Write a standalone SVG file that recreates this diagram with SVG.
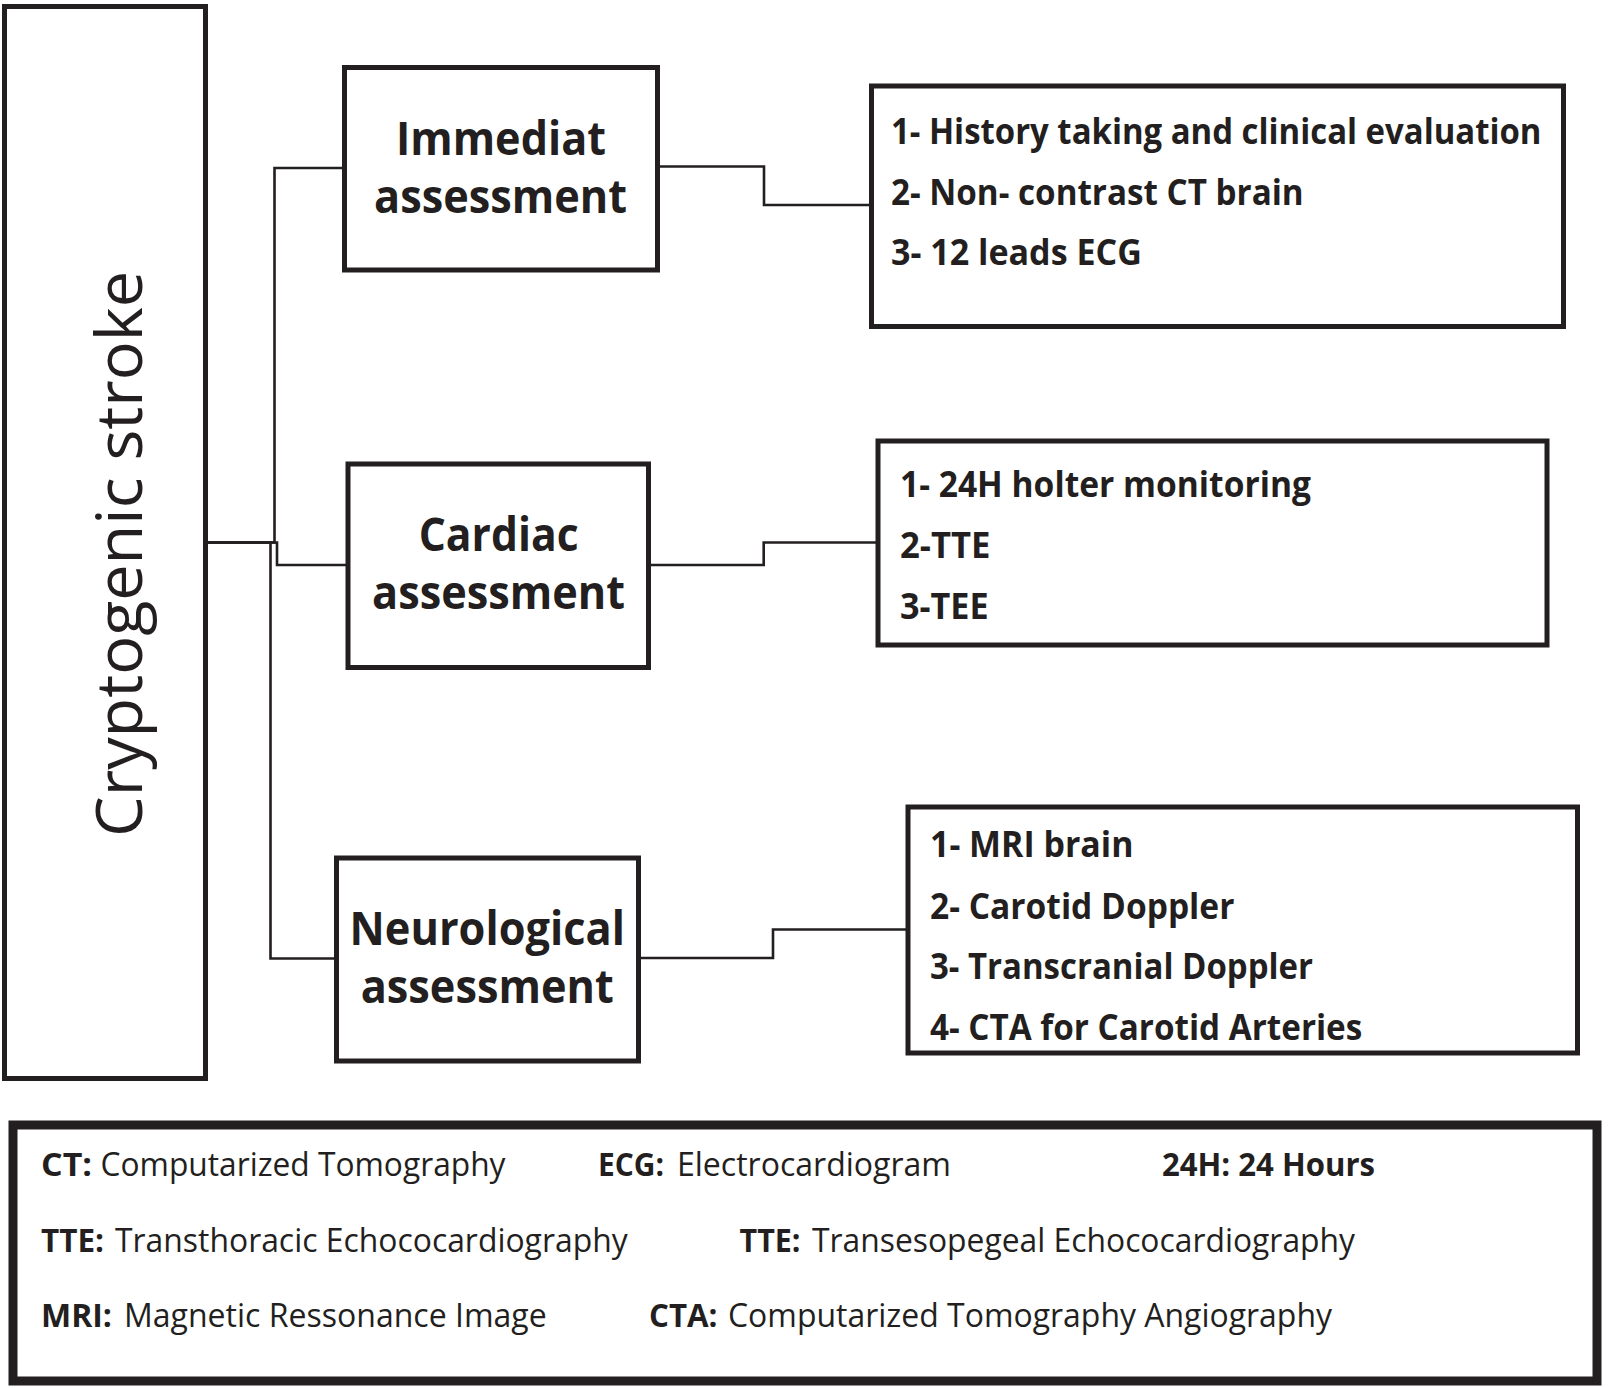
<svg xmlns="http://www.w3.org/2000/svg" width="1608" height="1388" viewBox="0 0 1608 1388">
<style>
.box{fill:#fff;stroke:#231f20;stroke-width:5}
.conn{fill:none;stroke:#231f20;stroke-width:2.6}
.t{font-family:"Open Sans","Noto Sans","Liberation Sans",sans-serif;fill:#231f20}
.title{font-size:46px;font-weight:700}
.item{font-size:35px;font-weight:700}
.leg{font-size:33px;font-weight:400}
.legb{font-size:33px;font-weight:700}
.root{font-size:64px;font-weight:400}
</style>
<rect x="0" y="0" width="1608" height="1388" fill="#fff"/>
<g id="connectors">
<path class="conn" d="M344.5,168 H274.5 V542.5 H207"/>
<path class="conn" d="M207,542.5 H277 V565 H348"/>
<path class="conn" d="M207,542.5 H270.5 V958.5 H336.5"/>
<path class="conn" d="M657.5,166.5 H764 V205 H871.5"/>
<path class="conn" d="M648.5,565 H763.7 V542.5 H878"/>
<path class="conn" d="M638.5,958 H773 V929.5 H908"/>
</g>
<g id="cryptogenic-stroke">
<rect class="box" x="4.5" y="6.5" width="201" height="1072"/>
<text class="t root" transform="translate(142,837) rotate(-90)" x="0" y="0" textLength="566" lengthAdjust="spacingAndGlyphs">Cryptogenic stroke</text>
</g>
<g id="immediate-assessment">
<rect class="box" x="344.5" y="67.5" width="313" height="202.5"/>
<text class="t title" x="396" y="154.5" textLength="210" lengthAdjust="spacingAndGlyphs">Immediat</text>
<text class="t title" x="374" y="212.5" textLength="253" lengthAdjust="spacingAndGlyphs">assessment</text>
</g>
<g id="cardiac-assessment">
<rect class="box" x="348" y="464" width="300.5" height="203.5"/>
<text class="t title" x="418.7" y="551.3" textLength="160" lengthAdjust="spacingAndGlyphs">Cardiac</text>
<text class="t title" x="372" y="609.4" textLength="253" lengthAdjust="spacingAndGlyphs">assessment</text>
</g>
<g id="neurological-assessment">
<rect class="box" x="336.5" y="858" width="302" height="203"/>
<text class="t title" x="349.5" y="945" textLength="275.5" lengthAdjust="spacingAndGlyphs">Neurological</text>
<text class="t title" x="360.7" y="1003" textLength="253" lengthAdjust="spacingAndGlyphs">assessment</text>
</g>
<g id="immediate-list">
<rect class="box" x="871.5" y="86" width="692" height="240.5"/>
<text class="t item" x="891" y="144" textLength="650.5" lengthAdjust="spacingAndGlyphs">1- History taking and clinical evaluation</text>
<text class="t item" x="891" y="205" textLength="412.7" lengthAdjust="spacingAndGlyphs">2- Non- contrast CT brain</text>
<text class="t item" x="891" y="265" textLength="250.8" lengthAdjust="spacingAndGlyphs">3- 12 leads ECG</text>
</g>
<g id="cardiac-list">
<rect class="box" x="878" y="441" width="669" height="204"/>
<text class="t item" x="900" y="497" textLength="411" lengthAdjust="spacingAndGlyphs">1- 24H holter monitoring</text>
<text class="t item" x="900" y="557.5" textLength="90.5" lengthAdjust="spacingAndGlyphs">2-TTE</text>
<text class="t item" x="900" y="619" textLength="88.6" lengthAdjust="spacingAndGlyphs">3-TEE</text>
</g>
<g id="neurological-list">
<rect class="box" x="908" y="807" width="669.5" height="246"/>
<text class="t item" x="930" y="857" textLength="203.5" lengthAdjust="spacingAndGlyphs">1- MRI brain</text>
<text class="t item" x="930" y="918.5" textLength="304.4" lengthAdjust="spacingAndGlyphs">2- Carotid Doppler</text>
<text class="t item" x="930" y="979" textLength="383" lengthAdjust="spacingAndGlyphs">3- Transcranial Doppler</text>
<text class="t item" x="930" y="1040" textLength="432.3" lengthAdjust="spacingAndGlyphs">4- CTA for Carotid Arteries</text>
</g>
<g id="legend">
<rect x="13" y="1125" width="1584" height="256" fill="#fff" stroke="#231f20" stroke-width="9"/>
<text class="t legb" x="41" y="1176" textLength="51" lengthAdjust="spacingAndGlyphs">CT:</text>
<text class="t leg" x="100.5" y="1176" textLength="405" lengthAdjust="spacingAndGlyphs">Computarized Tomography</text>
<text class="t legb" x="598" y="1176" textLength="66" lengthAdjust="spacingAndGlyphs">ECG:</text>
<text class="t leg" x="677" y="1176" textLength="274" lengthAdjust="spacingAndGlyphs">Electrocardiogram</text>
<text class="t legb" x="1162" y="1176" textLength="213" lengthAdjust="spacingAndGlyphs">24H: 24 Hours</text>
<text class="t legb" x="41" y="1252" textLength="63" lengthAdjust="spacingAndGlyphs">TTE:</text>
<text class="t leg" x="115" y="1252" textLength="512.7" lengthAdjust="spacingAndGlyphs">Transthoracic Echococardiography</text>
<text class="t legb" x="739.5" y="1252" textLength="61" lengthAdjust="spacingAndGlyphs">TTE:</text>
<text class="t leg" x="812" y="1252" textLength="543" lengthAdjust="spacingAndGlyphs">Transesopegeal Echococardiography</text>
<text class="t legb" x="41" y="1327" textLength="71" lengthAdjust="spacingAndGlyphs">MRI:</text>
<text class="t leg" x="124" y="1327" textLength="422.7" lengthAdjust="spacingAndGlyphs">Magnetic Ressonance Image</text>
<text class="t legb" x="649" y="1327" textLength="68.5" lengthAdjust="spacingAndGlyphs">CTA:</text>
<text class="t leg" x="728" y="1327" textLength="604" lengthAdjust="spacingAndGlyphs">Computarized Tomography Angiography</text>
</g>
</svg>
